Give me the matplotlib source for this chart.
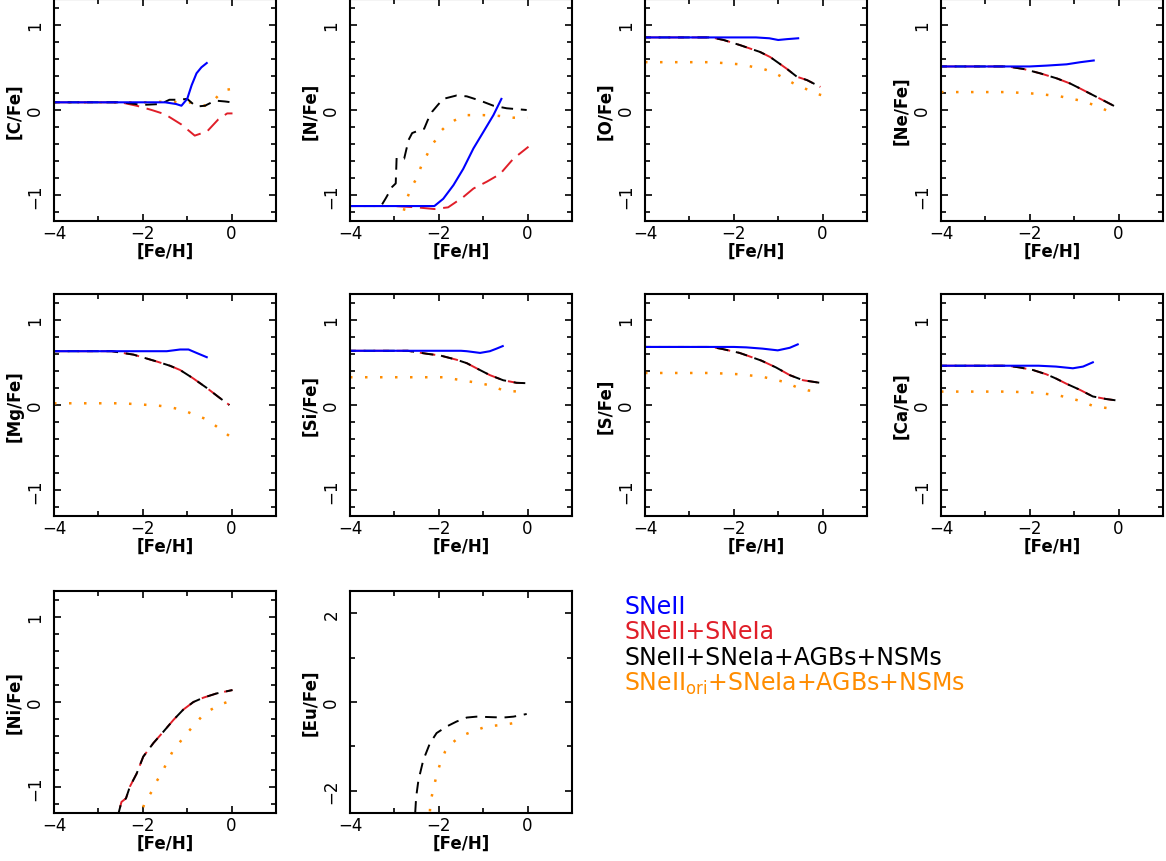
import matplotlib
matplotlib.use("Agg")
import matplotlib.pyplot as plt
from matplotlib.ticker import MultipleLocator


# element panels, reading order
elements = ["C", "N", "O", "Ne", "Mg", "Si", "S", "Ca", "Ni", "Eu"]

legend_labels = ["SNeII", "SNeII+SNeIa", "SNeII+SNeIa+AGBs+NSMs",
                 r"SNeII$_{\rm ori}$+SNeIa+AGBs+NSMs"]

# [C/Fe]
c_snii_x = [-4, -2.5, -1.5, -1.25, -1.13, -1.0, -0.9, -0.79, -0.68, -0.56]
c_snii_y = [0.09, 0.09, 0.09, 0.07, 0.05, 0.13, 0.29, 0.43, 0.50, 0.55]
c_ia_x = [-4, -2.5, -2.14, -1.8, -1.5, -1.13, -0.83, -0.55, -0.3, -0.1, 0.02]
c_ia_y = [0.09, 0.09, 0.05, 0.0, -0.05, -0.17, -0.30, -0.25, -0.11, -0.04, -0.04]
c_all_x = [-4, -2.5, -2.0, -1.6, -1.4, -1.2, -1.0, -0.8, -0.6, -0.37, -0.15, 0.0]
c_all_y = [0.09, 0.09, 0.06, 0.07, 0.12, 0.12, 0.13, 0.04, 0.05, 0.11, 0.10, 0.09]
c_ori_x = [-4, -2.0, -1.35, -1.1, -0.86, -0.6, -0.37, -0.19, 0.04]
c_ori_y = [0.09, 0.09, 0.10, 0.08, 0.09, 0.05, 0.13, 0.23, 0.25]

# [N/Fe]
n_snii_x = [-4, -2.1, -1.9, -1.67, -1.45, -1.22, -1.0, -0.77, -0.59]
n_snii_y = [-1.125, -1.125, -1.04, -0.88, -0.69, -0.45, -0.26, -0.06, 0.13]
n_ia_x = [-4, -3.0, -2.5, -2.1, -1.79, -1.45, -1.22, -0.92, -0.62, -0.32, 0.02]
n_ia_y = [-1.125, -1.125, -1.14, -1.16, -1.14, -1.02, -0.92, -0.84, -0.75, -0.57, -0.43]
n_all_x = [-4, -3.3, -3.19, -3.05, -2.97, -2.95, -2.78, -2.68, -2.6, -2.45, -2.33,
           -2.25, -2.15, -2.02, -1.9, -1.6, -1.37, -1.07, -0.77, -0.47, -0.02]
n_all_y = [-1.125, -1.125, -1.03, -0.9, -0.86, -0.56, -0.57, -0.35, -0.27, -0.24, -0.22,
           -0.12, -0.02, 0.06, 0.13, 0.17, 0.16, 0.11, 0.05, 0.02, 0.0]
n_ori_x = [-2.87, -2.72, -2.61, -2.5, -2.39, -2.27, -2.16, -2.05, -1.94, -1.82, -1.64,
           -1.37, -1.0, -0.62, -0.32, 0.0]
n_ori_y = [-1.35, -1.04, -0.90, -0.80, -0.65, -0.53, -0.41, -0.34, -0.24, -0.18, -0.12,
           -0.06, -0.06, -0.07, -0.09, -0.09]

# [O/Fe]  (SNeIa and full model overlap)
o_snii_x = [-4, -1.5, -1.2, -1.0, -0.8, -0.55]
o_snii_y = [0.85, 0.85, 0.84, 0.82, 0.83, 0.84]
o_ia_x = [-4, -2.5, -2.23, -1.86, -1.41, -1.18, -0.8, -0.58, -0.35, -0.05]
o_ia_y = [0.85, 0.85, 0.82, 0.76, 0.68, 0.62, 0.48, 0.39, 0.35, 0.27]
o_ori_x = [-4, -2.5, -1.86, -1.33, -1.1, -0.65, -0.39, -0.13, 0.06]
o_ori_y = [0.56, 0.56, 0.535, 0.48, 0.44, 0.31, 0.25, 0.19, 0.16]

# [Ne/Fe]
ne_snii_x = [-4, -2.0, -1.62, -1.17, -0.86, -0.56]
ne_snii_y = [0.51, 0.51, 0.52, 0.535, 0.56, 0.58]
ne_ia_x = [-4, -2.5, -2.14, -1.77, -1.39, -1.09, -0.86, -0.56, -0.26, 0.0]
ne_ia_y = [0.51, 0.51, 0.48, 0.43, 0.37, 0.31, 0.25, 0.17, 0.09, 0.02]
ne_ori_x = [-4, -2.5, -1.84, -1.32, -0.86, -0.56, -0.11]
ne_ori_y = [0.21, 0.21, 0.19, 0.16, 0.11, 0.06, -0.04]

# [Mg/Fe]
mg_snii_x = [-4, -2.0, -1.46, -1.16, -0.97, -0.79, -0.56]
mg_snii_y = [0.63, 0.63, 0.63, 0.65, 0.65, 0.61, 0.56]
mg_ia_x = [-4, -2.7, -2.21, -1.69, -1.39, -1.16, -0.86, -0.56, -0.26, -0.05]
mg_ia_y = [0.63, 0.63, 0.59, 0.51, 0.46, 0.41, 0.31, 0.20, 0.08, 0.0]
mg_ori_x = [-4, -2.5, -2.14, -1.61, -1.35, -1.09, -0.86, -0.6, -0.37, -0.19, 0.02]
mg_ori_y = [0.02, 0.02, 0.01, -0.01, -0.03, -0.06, -0.11, -0.16, -0.24, -0.31, -0.39]

# [Si/Fe]
si_snii_x = [-4, -1.5, -1.37, -1.07, -0.85, -0.7, -0.56]
si_snii_y = [0.635, 0.635, 0.63, 0.61, 0.63, 0.66, 0.69]
si_ia_x = [-4, -2.7, -2.27, -1.97, -1.6, -1.37, -1.15, -0.85, -0.55, -0.25, 0.0]
si_ia_y = [0.635, 0.635, 0.6, 0.58, 0.53, 0.49, 0.43, 0.35, 0.29, 0.26, 0.255]
si_ori_x = [-4, -1.9, -1.37, -1.07, -0.85, -0.59, -0.32, -0.06]
si_ori_y = [0.325, 0.325, 0.28, 0.255, 0.23, 0.18, 0.16, 0.16]

# [S/Fe]
s_snii_x = [-4, -2.0, -1.72, -1.35, -1.01, -0.74, -0.56]
s_snii_y = [0.68, 0.68, 0.675, 0.66, 0.64, 0.67, 0.71]
s_ia_x = [-4, -2.5, -2.25, -1.87, -1.65, -1.38, -1.05, -0.74, -0.44, 0.0]
s_ia_y = [0.68, 0.68, 0.655, 0.61, 0.57, 0.52, 0.44, 0.35, 0.29, 0.255]
s_ori_x = [-4, -2.5, -1.87, -1.35, -0.86, -0.59, -0.32, -0.1]
s_ori_y = [0.375, 0.375, 0.36, 0.33, 0.27, 0.21, 0.17, 0.16]

# [Ca/Fe]
ca_snii_x = [-4, -1.8, -1.41, -1.03, -0.8, -0.58]
ca_snii_y = [0.46, 0.46, 0.45, 0.43, 0.45, 0.5]
ca_ia_x = [-4, -2.5, -2.23, -1.93, -1.63, -1.41, -1.18, -0.88, -0.58, -0.28, 0.0]
ca_ia_y = [0.46, 0.46, 0.44, 0.41, 0.36, 0.31, 0.25, 0.18, 0.10, 0.07, 0.05]
ca_ori_x = [-4, -2.5, -1.86, -1.33, -0.88, -0.58, -0.09]
ca_ori_y = [0.157, 0.157, 0.145, 0.11, 0.05, -0.01, -0.05]

# [Ni/Fe]
ni_ia_x = [-2.6, -2.55, -2.48, -2.38, -2.29, -2.14, -1.99, -1.76, -1.54, -1.31, -1.09,
           -0.86, -0.64, -0.34, 0.02]
ni_ia_y = [-1.5, -1.31, -1.17, -1.13, -0.99, -0.84, -0.64, -0.48, -0.35, -0.21, -0.09,
           0.0, 0.05, 0.10, 0.14]
ni_ori_x = [-2.1, -1.95, -1.8, -1.69, -1.56, -1.46, -1.33, -1.18, -1.03, -0.86, -0.69,
            -0.5, -0.26, -0.04]
ni_ori_y = [-1.4, -1.17, -1.05, -0.93, -0.82, -0.71, -0.58, -0.48, -0.38, -0.28, -0.18,
            -0.10, -0.03, 0.01]

# [Eu/Fe]
eu_all_x = [-2.55, -2.51, -2.46, -2.35, -2.2, -2.05, -1.82, -1.6, -1.37, -1.15, -0.85,
            -0.55, -0.32, -0.02]
eu_all_y = [-2.8, -2.14, -1.77, -1.31, -0.93, -0.70, -0.55, -0.44, -0.35, -0.33, -0.34,
            -0.35, -0.33, -0.27]
eu_ori_x = [-2.23, -2.18, -2.12, -2.05, -1.97, -1.86, -1.75, -1.6, -1.41, -1.15, -0.92,
            -0.62, -0.4, -0.1]
eu_ori_y = [-2.8, -2.22, -1.95, -1.65, -1.39, -1.12, -0.97, -0.84, -0.73, -0.63, -0.55,
            -0.52, -0.49, -0.44]

# (snii, snia, full, ori) per panel; None where the curve is not shown
curves = {
    "C": ((c_snii_x, c_snii_y), (c_ia_x, c_ia_y), (c_all_x, c_all_y), (c_ori_x, c_ori_y)),
    "N": ((n_snii_x, n_snii_y), (n_ia_x, n_ia_y), (n_all_x, n_all_y), (n_ori_x, n_ori_y)),
    "O": ((o_snii_x, o_snii_y), (o_ia_x, o_ia_y), (o_ia_x, o_ia_y), (o_ori_x, o_ori_y)),
    "Ne": ((ne_snii_x, ne_snii_y), (ne_ia_x, ne_ia_y), (ne_ia_x, ne_ia_y), (ne_ori_x, ne_ori_y)),
    "Mg": ((mg_snii_x, mg_snii_y), (mg_ia_x, mg_ia_y), (mg_ia_x, mg_ia_y), (mg_ori_x, mg_ori_y)),
    "Si": ((si_snii_x, si_snii_y), (si_ia_x, si_ia_y), (si_ia_x, si_ia_y), (si_ori_x, si_ori_y)),
    "S": ((s_snii_x, s_snii_y), (s_ia_x, s_ia_y), (s_ia_x, s_ia_y), (s_ori_x, s_ori_y)),
    "Ca": ((ca_snii_x, ca_snii_y), (ca_ia_x, ca_ia_y), (ca_ia_x, ca_ia_y), (ca_ori_x, ca_ori_y)),
    "Ni": (None, (ni_ia_x, ni_ia_y), (ni_ia_x, ni_ia_y), (ni_ori_x, ni_ori_y)),
    "Eu": (None, None, (eu_all_x, eu_all_y), (eu_ori_x, eu_ori_y)),
}

BLUE = "#0000ff"
RED = "#e01e28"
BLACK = "#000000"
ORANGE = "#ff8c00"
colors = [BLUE, RED, BLACK, ORANGE]

plt.rcParams["font.family"] = "DejaVu Sans"

W, H = 1166, 862
fig = plt.figure(figsize=(W / 100, H / 100), dpi=100)

col_left = [54, 350, 645, 941]
row_top = [0, 295, 592]
box = 222


def make_axes(i):
    r, c = divmod(i, 4)
    return fig.add_axes([col_left[c] / W, 1 - (row_top[r] + box) / H, box / W, box / H])


def style_axes(ax, el):
    ax.set_xlim(-4, 1)
    ax.xaxis.set_minor_locator(MultipleLocator(1))
    ax.set_xticks([-4, -2, 0], labels=["\u22124", "\u22122", "0"])
    if el == "Eu":
        ax.set_ylim(-2.5, 2.5)
        ax.set_yticks([-2, 0, 2], labels=["\u22122", "0", "2"], rotation=90, va="center")
        ax.yaxis.set_minor_locator(MultipleLocator(1))
    else:
        ax.set_ylim(-1.3, 1.3)
        ax.set_yticks([-1, 0, 1], labels=["\u22121", "0", "1"], rotation=90, va="center")
        ax.yaxis.set_minor_locator(MultipleLocator(0.2))
    ax.tick_params(which="both", direction="in", top=True, right=True, width=1.2,
                   labelsize=12)
    ax.tick_params(which="major", length=5)
    ax.tick_params(which="minor", length=3.5)
    ax.tick_params(axis="x", pad=2)
    ax.tick_params(axis="y", pad=7)
    for sp in ax.spines.values():
        sp.set_linewidth(1.5)
    ax.set_xlabel("[Fe/H]", fontsize=12, fontweight="bold", labelpad=0)
    ax.set_ylabel("[%s/Fe]" % el, fontsize=12, fontweight="bold", labelpad=2)


for i, el in enumerate(elements):
    ax = make_axes(i)
    snii, snia, full, ori = curves[el]
    if ori is not None:
        ax.plot(ori[0], ori[1], color=ORANGE, lw=1.8, linestyle=(0, (1, 5)))
    if snia is not None:
        ax.plot(snia[0], snia[1], color=RED, lw=1.4, linestyle=(0, (8, 4)))
    if full is not None:
        ax.plot(full[0], full[1], color=BLACK, lw=1.4, linestyle=(3, (6, 4)))
    if snii is not None:
        ax.plot(snii[0], snii[1], color=BLUE, lw=1.5)
    style_axes(ax, el)

# legend as coloured text lines
for k, (lab, col) in enumerate(zip(legend_labels, colors)):
    fig.text(624 / W, 1 - (607 + 25.5 * k) / H, lab, color=col, fontsize=17,
             ha="left", va="center")

fig.savefig("out.png", dpi=100)
